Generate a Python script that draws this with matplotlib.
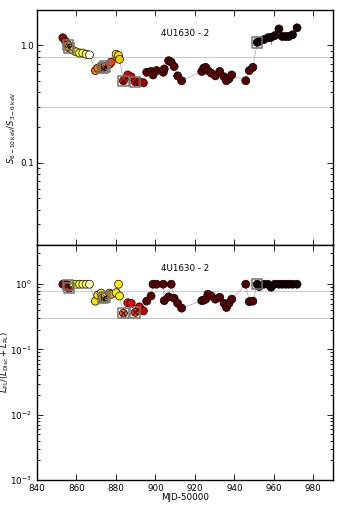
import matplotlib
matplotlib.use("Agg")
import matplotlib.pyplot as plt
import numpy as np
from matplotlib.ticker import FixedLocator, FormatStrFormatter, LogLocator, NullFormatter

# MJD-50000 of each observation
mjd = [853.1, 854.5, 855.7, 856.2, 858.2, 859.9, 861.6, 863.2, 864.9, 866.6,
       869.6, 870.8, 872.5, 873.3, 874.5, 876.7, 877.6,
       880.1, 881.3, 881.8,
       883.8, 886.0, 887.7, 889.8, 891.9, 893.9,
       895.6, 897.8, 898.8, 900.6, 904.0, 904.5, 906.7, 908.0, 909.5, 911.3, 913.3,
       923.5, 924.5, 925.5, 926.6, 928.3, 930.4, 932.6, 934.8, 936.0, 937.3, 938.7,
       945.8, 947.6, 949.4,
       951.6, 952.6, 955.0, 957.0, 958.6, 960.5, 962.6, 964.3, 966.0, 967.6, 969.5, 971.8]

# hardness ratio S(6-10 keV)/S(3-6 keV)
hardness = [1.16, 1.08, 1.01, 0.95, 0.91, 0.88, 0.86, 0.86, 0.84, 0.83,
            0.61, 0.64, 0.66, 0.64, 0.66, 0.69, 0.72,
            0.84, 0.82, 0.76,
            0.50, 0.56, 0.54, 0.49, 0.49, 0.48,
            0.59, 0.60, 0.56, 0.61, 0.59, 0.63, 0.74, 0.72, 0.66, 0.55, 0.50,
            0.60, 0.64, 0.65, 0.61, 0.58, 0.55, 0.60, 0.54, 0.50, 0.52, 0.56,
            0.50, 0.61, 0.65,
            1.06, 1.08, 1.12, 1.16, 1.17, 1.21, 1.38, 1.19, 1.19, 1.19, 1.23, 1.41]
hardness_err = [0.0] * len(mjd)
hardness_err[55] = 0.15

# power-law fraction L_PL/(L_Disc+L_PL)
pl_frac = [1.0, 1.0, 0.97, 0.87, 1.0, 1.0, 1.0, 1.0, 1.0, 1.0,
           0.55, 0.68, 0.73, 0.61, 0.64, 0.73, 0.70,
           0.74, 1.0, 0.66,
           0.36, 0.52, 0.51, 0.37, 0.45, 0.39,
           0.55, 0.66, 1.0, 1.0, 1.0, 0.56, 0.64, 1.0, 0.61, 0.51, 0.43,
           0.56, 0.57, 0.59, 0.70, 0.66, 0.59, 0.63, 0.51, 0.44, 0.51, 0.59,
           1.0, 0.54, 0.55,
           1.0, 0.92, 1.0, 1.0, 0.90, 1.0, 1.0, 1.0, 1.0, 1.0, 1.0, 1.0]

# colour values (hot colormap) for each panel
c_top = [0.22, 0.2, 0.55, 0.6, 0.7, 0.72, 0.75, 0.8, 0.85, 0.97,
         0.55, 0.55, 0.55, 0.55, 0.55, 0.5, 0.45,
         0.68, 0.7, 0.66,
         0.35, 0.33, 0.3, 0.35, 0.3, 0.22,
         0.12, 0.12, 0.12, 0.12, 0.12, 0.12, 0.12, 0.12, 0.12, 0.12, 0.12,
         0.12, 0.12, 0.12, 0.12, 0.12, 0.12, 0.12, 0.12, 0.12, 0.12, 0.12,
         0.12, 0.12, 0.12,
         0.02, 0.02, 0.02, 0.02, 0.02, 0.02, 0.02, 0.02, 0.02, 0.02, 0.02, 0.02]
c_bot = [0.2, 0.2, 0.3, 0.4, 0.72, 0.74, 0.78, 0.82, 0.86, 0.92,
         0.7, 0.7, 0.7, 0.68, 0.68, 0.62, 0.62,
         0.72, 0.72, 0.72,
         0.5, 0.36, 0.33, 0.45, 0.3, 0.28,
         0.12, 0.12, 0.12, 0.12, 0.12, 0.12, 0.12, 0.12, 0.12, 0.12, 0.12,
         0.12, 0.12, 0.12, 0.12, 0.12, 0.12, 0.12, 0.12, 0.12, 0.12, 0.12,
         0.12, 0.12, 0.12,
         0.02, 0.02, 0.02, 0.02, 0.02, 0.02, 0.02, 0.02, 0.02, 0.02, 0.02, 0.02]

# observations flagged with a square
flagged = [855.7, 856.2, 873.3, 874.5, 883.8, 889.8, 951.6]

fs = 6.3
plt.rcParams['font.size'] = fs
plt.rcParams['xtick.direction'] = 'in'
plt.rcParams['ytick.direction'] = 'in'
plt.rcParams['xtick.top'] = True
plt.rcParams['ytick.right'] = True

fig = plt.figure(figsize=(3.41, 5.11), dpi=100)
ax1 = fig.add_axes([0.1085, 0.5205, 0.868, 0.46])
ax2 = fig.add_axes([0.1085, 0.0607, 0.868, 0.46])

cmap = plt.get_cmap('hot')
mjd_a = np.array(mjd)
flag_idx = [int(np.argmin(np.abs(mjd_a - m))) for m in flagged]

for ax, vals, cvals in [(ax1, hardness, c_top), (ax2, pl_frac, c_bot)]:
    vals = np.array(vals)
    ax.axhline(0.8, color='0.8', lw=0.8, zorder=0)
    ax.axhline(0.3, color='0.8', lw=0.8, zorder=0)
    ax.plot(mjd_a, vals, '-', color='0.7', lw=0.6, zorder=1)
    ax.scatter(mjd_a, vals, s=33, c=cmap(np.array(cvals)), edgecolors='k',
               linewidths=0.5, zorder=3)
    ax.scatter(mjd_a[flag_idx], vals[flag_idx], s=10, marker='x', c='k',
               linewidths=0.7, zorder=4)
    ax.scatter(mjd_a[flag_idx], vals[flag_idx], s=55, marker='s',
               facecolors='none', edgecolors='0.45', linewidths=1.1, zorder=5)
    ax.set_yscale('log')
    ax.set_xlim(840, 990)
    ax.xaxis.set_major_locator(FixedLocator(np.arange(840, 1000, 20)))
    ax.tick_params(which='major', length=4, width=0.6, labelsize=fs)
    ax.tick_params(which='minor', length=2, width=0.6)
    ax.tick_params(axis='x', pad=3)
    for sp in ax.spines.values():
        sp.set_linewidth(1.0)
    ax.text(0.5, 0.9, '4U1630 - 2', transform=ax.transAxes, ha='center',
            va='center', fontsize=fs)

ax1.errorbar(mjd_a, hardness, yerr=[hardness_err, [0] * len(mjd)], fmt='none',
             ecolor='0.5', elinewidth=0.8, zorder=2)

ax1.set_ylim(0.02, 2.0)
ax1.yaxis.set_major_locator(FixedLocator([0.1, 1.0]))
ax1.yaxis.set_major_formatter(FormatStrFormatter('%.1f'))
ax1.yaxis.set_minor_formatter(NullFormatter())
ax1.tick_params(axis='y', pad=2)
ax1.set_xticklabels([])
ax1.set_ylabel(r'$S_{6-10\,\mathrm{keV}}/S_{3-6\,\mathrm{keV}}$', fontsize=6)

ax2.set_ylim(1e-3, 4.0)
ax2.yaxis.set_major_locator(LogLocator(base=10, numticks=10))
ax2.yaxis.set_minor_formatter(NullFormatter())
ax2.tick_params(axis='y', pad=4)
ax2.set_xlabel('MJD-50000', fontsize=fs, labelpad=0)
ax2.set_ylabel(r'$L_{\rm PL}/(L_{\rm Disc}+L_{\rm PL})$', fontsize=6)

ax1.yaxis.set_label_coords(-0.064, 0.5)
ax2.yaxis.set_label_coords(-0.088, 0.5)

fig.savefig('out.png', dpi=100)
